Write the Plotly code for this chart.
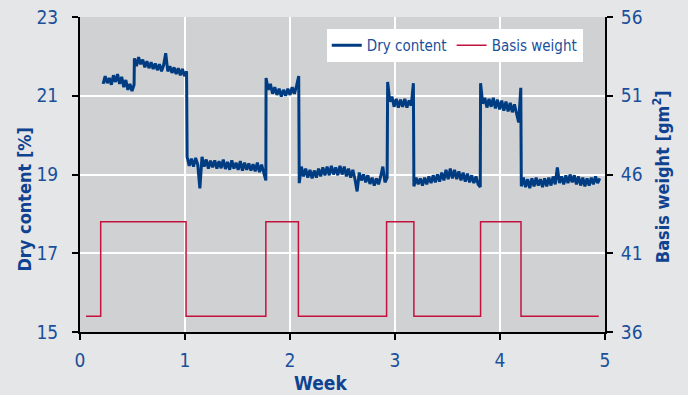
import numpy as np
import plotly.graph_objects as go

# ---- Data ----
# Dry content [%]: segments (start week, end week, values)
dry_segments = [
    (0.22, 0.515, [21.30, 21.50, 21.32, 21.45, 21.28, 21.52, 21.35, 21.55, 21.30, 21.48,
                   21.22, 21.40, 21.15, 21.30, 21.12, 21.28]),
    (0.518, 1.015, [21.95, 21.75, 21.98, 21.80, 21.92, 21.72, 21.88, 21.70, 21.85, 21.68,
                    21.82, 21.65, 21.80, 21.62, 21.78, 22.08, 21.62, 21.75, 21.58, 21.72,
                    21.55, 21.70, 21.52, 21.68, 21.50, 21.62]),
    (1.02, 1.77, [19.45, 19.22, 19.40, 19.20, 19.42, 19.25, 18.65, 19.45, 19.20, 19.38,
                  19.15, 19.35, 19.18, 19.36, 19.15, 19.34, 19.16, 19.38, 19.14, 19.32,
                  19.12, 19.36, 19.15, 19.30, 19.12, 19.34, 19.10, 19.30, 19.12, 19.28,
                  19.10, 19.26, 19.08, 19.30, 19.06, 19.25, 19.05, 18.85]),
    (1.772, 2.083, [21.45, 21.15, 21.30, 21.05, 21.22, 21.02, 21.18, 20.98, 21.15, 21.00,
                    21.18, 21.02, 21.22, 21.05, 21.25, 21.50]),
    (2.088, 2.925, [18.78, 19.20, 18.95, 19.15, 18.92, 19.12, 18.90, 19.10, 18.92, 19.15,
                    18.95, 19.18, 18.98, 19.20, 18.98, 19.22, 19.00, 19.18, 18.98, 19.22,
                    19.00, 19.20, 18.95, 19.15, 18.92, 19.12, 18.88, 18.57, 19.05, 18.85,
                    19.00, 18.80, 18.98, 18.76, 18.92, 18.72, 18.90, 18.75, 18.95, 19.20,
                    18.80, 18.92]),
    (2.93, 3.175, [21.35, 20.85, 20.98, 20.72, 20.92, 20.70, 20.90, 20.72, 20.92, 20.70,
                   20.88, 20.75, 21.32]),
    (3.18, 3.812, [18.70, 18.92, 18.75, 18.90, 18.72, 18.92, 18.75, 18.95, 18.78, 18.98,
                   18.80, 19.00, 18.82, 19.05, 18.85, 19.12, 18.88, 19.15, 18.90, 19.12,
                   18.88, 19.08, 18.85, 19.05, 18.82, 19.02, 18.80, 18.98, 18.78, 18.95,
                   18.75, 18.68]),
    (3.815, 4.198, [21.32, 20.80, 20.95, 20.70, 20.92, 20.72, 20.95, 20.68, 20.90, 20.65,
                    20.88, 20.62, 20.85, 20.60, 20.82, 20.58, 20.78, 20.55, 20.32, 21.20]),
    (4.203, 4.95, [18.70, 18.92, 18.68, 18.88, 18.65, 18.90, 18.70, 18.92, 18.72, 18.88,
                   18.68, 18.90, 18.70, 18.92, 18.72, 18.95, 18.75, 19.18, 18.78, 18.95,
                   18.75, 18.98, 18.78, 19.00, 18.80, 18.98, 18.75, 18.95, 18.72, 18.92,
                   18.70, 18.90, 18.72, 18.92, 18.75, 18.95, 18.78, 18.90]),
]

# Basis weight [g/m2]: step profile (week, value)
basis_weeks = [0.057, 0.197, 0.197, 1.01, 1.01, 1.77, 1.77, 2.08, 2.08, 2.92, 2.92,
               3.18, 3.18, 3.815, 3.815, 4.20, 4.20, 4.94]
basis_values = [37, 37, 43, 43, 37, 37, 43, 43, 37, 37, 43, 43, 37, 37, 43, 43, 37, 37]

x_ticks = [0, 1, 2, 3, 4, 5]
y1_ticks = [15, 17, 19, 21, 23]
y2_ticks = [36, 41, 46, 51, 56]

dry_weeks, dry_values = [], []
for start, end, vals in dry_segments:
    dry_weeks.extend(np.linspace(start, end, len(vals)).tolist())
    dry_values.extend(vals)

BLUE = "#003c82"
RED = "#c4123f"
TXT = "#1b4f9a"
TITLE = "#0f4290"
FONT = "DejaVu Sans Condensed, Liberation Sans Narrow, Arial Narrow, sans-serif"

fig = go.Figure()
fig.add_trace(go.Scatter(x=dry_weeks, y=dry_values, mode="lines", name="Dry content",
                         line=dict(color=BLUE, width=3), yaxis="y"))
fig.add_trace(go.Scatter(x=basis_weeks, y=basis_values, mode="lines", name="Basis weight",
                         line=dict(color=RED, width=1.5), yaxis="y2"))

axis_common = dict(showline=True, linecolor="black", linewidth=2, ticks="outside",
                   ticklen=6, tickwidth=2, tickcolor="black", automargin=False,
                   tickfont=dict(family=FONT, size=19, color=TXT), zeroline=False)

fig.update_layout(
    width=688, height=395,
    margin=dict(l=80, r=83, t=17, b=63),
    paper_bgcolor="#e4e6e8", plot_bgcolor="#d0d1d3",
    font=dict(family=FONT, color=TXT),
    xaxis=dict(range=[0, 5], tickvals=x_ticks, showgrid=True, gridcolor="white",
               gridwidth=2, ticklabelstandoff=4, **axis_common),
    yaxis=dict(range=[15, 23], tickvals=y1_ticks, showgrid=True, gridcolor="white",
               gridwidth=2, ticklabelstandoff=10, **axis_common),
    yaxis2=dict(range=[36, 56], tickvals=y2_ticks, overlaying="y", side="right",
                showgrid=False, ticklabelstandoff=4, **axis_common),
    showlegend=True,
    legend=dict(orientation="h", x=0.470, y=0.962, xanchor="left", yanchor="top",
                bgcolor="white", font=dict(family=FONT, size=15, color=TXT),
                itemwidth=30),
    annotations=[
        dict(text="<b>Dry content [%]</b>", xref="paper", yref="paper", x=-0.1057, y=0.422,
             textangle=-90, showarrow=False, font=dict(family=FONT, size=18, color=TITLE),
             xanchor="center", yanchor="middle"),
        dict(text="<b>Basis weight [gm<sup>2</sup>]</b>", xref="paper", yref="paper",
             x=1.107, y=0.492, textangle=-90, showarrow=False,
             font=dict(family=FONT, size=18, color=TITLE), xanchor="center", yanchor="middle"),
        dict(text="<b>Week</b>", xref="paper", yref="paper", x=0.459, y=-0.162,
             showarrow=False, font=dict(family=FONT, size=19, color=TITLE),
             xanchor="center", yanchor="middle"),
    ],
)

fig.write_html("out.html", config={"displayModeBar": False},
               post_script="document.body.style.margin='0';document.body.style.padding='0';"
                           "document.documentElement.style.overflow='hidden';")
